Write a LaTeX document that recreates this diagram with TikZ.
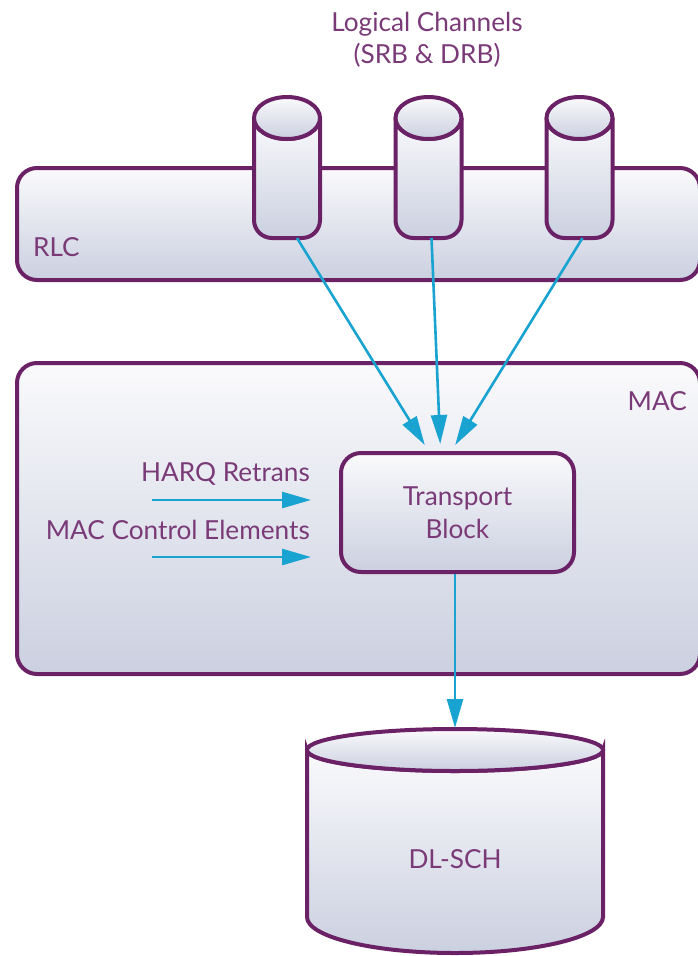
\documentclass[tikz,border=0pt]{standalone}
\usepackage{fontspec}
\setmainfont{Lato}
\usetikzlibrary{arrows.meta}
\definecolor{lineP}{HTML}{6B2166}
\definecolor{textP}{HTML}{7A3A78}
\definecolor{arrB}{HTML}{18A3D1}
\definecolor{fillT}{HTML}{FAFAFC}
\definecolor{fillB}{HTML}{CBD0E0}
\tikzset{
  panel/.style={draw=lineP, line width=4pt, rounded corners=20pt, top color=fillT, bottom color=fillB, inner sep=0pt},
  shapeline/.style={draw=lineP, line width=4pt, top color=fillT, bottom color=fillB},
  lbl/.style={text=textP, font=\fontsize{26.2}{32}\selectfont, inner sep=0pt},
  flow/.style={draw=arrB, line width=2.6pt, -{Triangle[length=29pt,width=16pt]}},
  ghost/.style={inner sep=0pt, outer sep=0pt},
}
% small logical channel cylinder: #1 = centre x
\newcommand\chancyl[1]{%
  \path[shapeline] (#1-33,118) -- (#1-33,220)
    .. controls (#1-33,230) and (#1-25,238) .. (#1-15,238) -- (#1+15,238)
    .. controls (#1+25,238) and (#1+33,230) .. (#1+33,220) -- (#1+33,118)
    .. controls (#1+33,129.6) and (#1+18.2,139) .. (#1,139)
    .. controls (#1-18.2,139) and (#1-33,129.6) .. (#1-33,118) -- cycle;
  \path[shapeline] (#1,118) ellipse [x radius=33, y radius=21];
}
\begin{document}
\begin{tikzpicture}[x=1pt,y=-1pt]
\useasboundingbox (0,0) rectangle (697,956);

% layers
\node[panel, minimum width=683pt, minimum height=112pt] (rlc) at (358.5,224) {};
\node[panel, minimum width=683pt, minimum height=311pt] (mac) at (358.5,518.5) {};
\node[lbl, anchor=base west] (rlcl) at (33,256) {RLC};
\node[lbl, anchor=base east] (macl) at (687,410) {MAC};

% logical channels
\chancyl{287}
\chancyl{428.5}
\chancyl{579.5}
\node[ghost, minimum width=66pt, minimum height=141pt] (c1) at (287,167.5) {};
\node[ghost, minimum width=66pt, minimum height=141pt] (c2) at (428.5,167.5) {};
\node[ghost, minimum width=66pt, minimum height=141pt] (c3) at (579.5,167.5) {};
\node[lbl, anchor=base] (lc1) at (427,31) {Logical Channels};
\node[lbl, anchor=base] (lc2) at (427,63) {(SRB \& DRB)};

% transport block
\node[panel, minimum width=233pt, minimum height=119pt, align=center,
      text=textP, font=\fontsize{26.2}{33}\selectfont] (tb) at (457.5,512.5) {Transport\\Block};

% side inputs
\node[lbl, anchor=base east] (harq) at (310,481) {HARQ Retrans};
\node[lbl, anchor=base east] (mce) at (310,539) {MAC Control Elements};
\coordinate (h0) at (152,500);
\coordinate (m0) at (152,557);
\draw[flow, shorten >=28pt] (h0) -- (h0 -| tb.west) ;
\draw[flow, shorten >=28pt] (m0) -- (m0 -| tb.west);

% DL-SCH cylinder
\path[shapeline] (307,750) -- (307,917)
  .. controls (307,936.9) and (373.3,953) .. (455,953)
  .. controls (536.7,953) and (603,936.9) .. (603,917) -- (603,750)
  .. controls (603,761.6) and (536.7,771) .. (455,771)
  .. controls (373.3,771) and (307,761.6) .. (307,750) -- cycle;
\path[shapeline] (455,750) ellipse [x radius=148, y radius=21];
\node[ghost, minimum width=296pt, minimum height=224pt] (dlsch) at (455,841) {};
\node[lbl] (dll) at (455,859) {DL-SCH};

% flows
\draw[flow, shorten >=7pt] ([xshift=10pt]c1.south) -- ([xshift=-29pt]tb.north);
\draw[flow, shorten >=7pt] ([xshift=3pt]c2.south) -- ([xshift=-17pt]tb.north);
\draw[flow, shorten >=7pt] ([xshift=3pt]c3.south) -- ([xshift=-6pt]tb.north);
\draw[flow, shorten >=1pt] (tb.south -| dlsch.north) -- (dlsch.north);
\end{tikzpicture}
\end{document}
